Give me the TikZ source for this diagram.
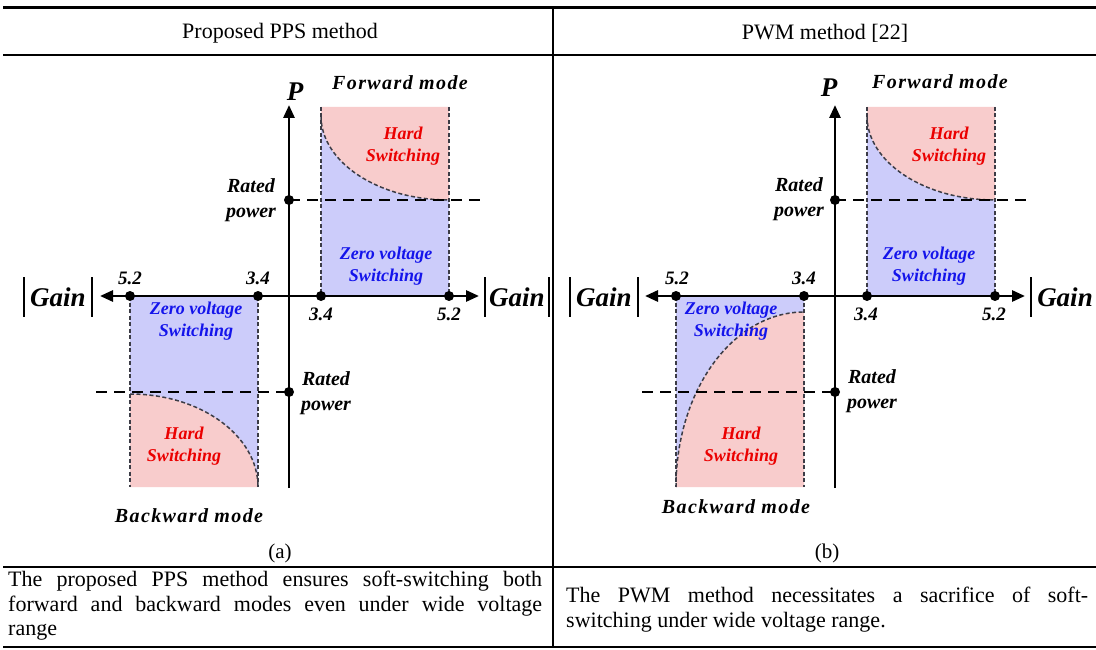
\documentclass[tikz,border=0pt]{standalone}
\usepackage{fontspec}
\setmainfont{Liberation Serif}
\usetikzlibrary{arrows.meta}
\definecolor{hardfill}{RGB}{248,204,204}
\definecolor{zvsfill}{RGB}{204,204,250}
\definecolor{hardtxt}{RGB}{235,0,0}
\definecolor{zvstxt}{RGB}{20,20,235}
\definecolor{edgegray}{RGB}{60,60,70}
\begin{document}
\begin{tikzpicture}[x=1pt,y=-1pt,
 tip/.tip={Triangle[length=13pt,width=11pt]},
 axisline/.style={line width=2.8pt,-tip},
 axisboth/.style={line width=2.8pt,tip-tip},
 dotn/.style={circle,fill=black,minimum size=10pt,inner sep=0pt},
 ratedline/.style={line width=2.8pt,dash pattern=on 11pt off 7pt},
 regionedge/.style={line width=1.2pt,edgegray,dash pattern=on 4pt off 2.5pt},
 curveline/.style={line width=1.5pt,edgegray,dash pattern=on 4pt off 2.5pt},
 gainbar/.style={line width=2pt},
 ratedlbl/.style={font=\fontsize{20}{25}\selectfont\bfseries\itshape,inner sep=0pt,align=center},
 numlbl/.style={font=\fontsize{19}{22}\selectfont\bfseries\itshape,inner sep=0pt},
 gainlbl/.style={font=\fontsize{27}{30}\selectfont\bfseries\itshape,inner sep=0pt},
 plbl/.style={font=\fontsize{27}{30}\selectfont\bfseries\itshape,inner sep=0pt},
 modelbl/.style={font=\fontsize{20}{24}\selectfont\bfseries\itshape\addfontfeature{LetterSpace=7},inner sep=0pt},
 hardlbl/.style={font=\fontsize{18}{22}\selectfont\bfseries\itshape,text=hardtxt,align=center,inner sep=0pt},
 zvslbl/.style={font=\fontsize{18}{22}\selectfont\bfseries\itshape,text=zvstxt,align=center,inner sep=0pt},
 cellhead/.style={font=\fontsize{22}{24}\selectfont,inner sep=0pt},
 celltext/.style={font=\fontsize{22}{24.5}\selectfont,inner sep=0pt,anchor=north west,align=justify},
 sublbl/.style={font=\fontsize{21}{24}\selectfont,inner sep=0pt}
]
\useasboundingbox (0,0) rectangle (1096,650);
\fill[white] (0,0) rectangle (1096,650);

% ---------------- table rules ----------------
\coordinate (tl) at (3,8);   \coordinate (tr) at (1096,8);
\coordinate (hl) at (3,55);  \coordinate (hr) at (1096,55);
\coordinate (sl) at (3,567); \coordinate (sr) at (1096,567);
\coordinate (bl) at (3,647); \coordinate (br) at (1096,647);
\coordinate (vt) at (553,8); \coordinate (vb) at (553,648);
\draw[line width=3pt] (tl) -- (tr);
\draw[line width=2.5pt] (hl) -- (hr);
\draw[line width=2pt] (sl) -- (sr);
\draw[line width=2pt] (bl) -- (br);
\draw[line width=1.5pt] (vt) -- (vb);

\node[cellhead] (h1) at (280,33) {Proposed PPS method};
\node[cellhead] (h2) at (825,33) {PWM method [22]};

\node[celltext,text width=534pt] (t1) at (8,571)
 {The proposed PPS method ensures soft-switching both\linebreak forward and backward modes even under wide voltage\linebreak range};
\node[celltext,text width=522pt] (t2) at (566,587)
 {The PWM method necessitates a sacrifice of soft-\linebreak switching under wide voltage range.};

% ================= LEFT DIAGRAM =================
\fill[zvsfill] (321,107) rectangle (449,296);
\fill[hardfill] (321,107) -- (321,116) .. controls (321,162) and (378,200) .. (449,200) -- (449,107) -- cycle;
\draw[curveline] (321,116) .. controls (321,162) and (378,200) .. (449,200);
\draw[regionedge] (321,107) -- (321,296);
\draw[regionedge] (449,107) -- (449,296);

\fill[zvsfill] (130,296) rectangle (258,487);
\fill[hardfill] (130,487) -- (130,394) .. controls (200.7,394) and (258,435.6) .. (258,487) -- cycle;
\draw[curveline] (130,394) .. controls (200.7,394) and (258,435.6) .. (258,487);
\draw[regionedge] (130,296) -- (130,487);
\draw[regionedge] (258,296) -- (258,487);

\node[dotn] (aru) at (289,200) {};
\node[dotn] (ard) at (289,392) {};
\node[dotn] (a52l) at (130,296) {};
\node[dotn] (a34l) at (258,296) {};
\node[dotn] (a34r) at (321,296) {};
\node[dotn] (a52r) at (449,296) {};
\coordinate (aybot) at (289,488);
\coordinate (aytop) at (289,105);
\coordinate (axl) at (100,296);
\coordinate (axr) at (479,296);
\coordinate (aru2) at (482,200);
\coordinate (ard2) at (96,392);
\draw[ratedline] (aru.center) -- (aru2);
\draw[ratedline] (ard2) -- (ard.center);
\draw[axisline] (aybot) -- (aytop);
\draw[axisboth] (axl) -- (axr);

\draw[gainbar] (24,277) -- (24,317);
\draw[gainbar] (92,277) -- (92,317);
\draw[gainbar] (485,277) -- (485,317);
\draw[gainbar] (549,277) -- (549,317);

\node[plbl] (aP) at (295,92) {P};
\node[modelbl] (afw) at (400,83) {Forward mode};
\node[hardlbl] (ahard1) at (403,146) {Hard\\Switching};
\node[zvslbl] (azvs1) at (386,266) {Zero voltage\\Switching};
\node[ratedlbl] (arat1) at (251,200) {Rated\\power};
\node[numlbl] (an1) at (130,278) {5.2};
\node[numlbl] (an2) at (258,278) {3.4};
\node[numlbl] (an3) at (321,314) {3.4};
\node[numlbl] (an4) at (449,314) {5.2};
\node[gainlbl] (ag1) at (58,297) {Gain};
\node[gainlbl] (ag2) at (517,297) {Gain};
\node[zvslbl] (azvs2) at (196,321) {Zero voltage\\Switching};
\node[hardlbl] (ahard2) at (184,446) {Hard\\Switching};
\node[ratedlbl] (arat2) at (326,393) {Rated\\power};
\node[modelbl] (abw) at (189,516) {Backward mode};
\node[sublbl] (asub) at (280,553) {(a)};

% ================= RIGHT DIAGRAM =================
\fill[zvsfill] (867,107) rectangle (995,296);
\fill[hardfill] (867,107) -- (867,116) .. controls (867,162) and (924,200) .. (995,200) -- (995,107) -- cycle;
\draw[curveline] (867,116) .. controls (867,162) and (924,200) .. (995,200);
\draw[regionedge] (867,107) -- (867,296);
\draw[regionedge] (995,107) -- (995,296);

\fill[zvsfill] (676,296) rectangle (804,487);
\fill[hardfill] (676,487) .. controls (676,390.3) and (733.3,312) .. (804,312) -- (804,487) -- cycle;
\draw[curveline] (676,487) .. controls (676,390.3) and (733.3,312) .. (804,312);
\draw[regionedge] (676,296) -- (676,487);
\draw[regionedge] (804,296) -- (804,487);

\node[dotn] (bru) at (835,200) {};
\node[dotn] (brd) at (835,392) {};
\node[dotn] (b52l) at (676,296) {};
\node[dotn] (b34l) at (804,296) {};
\node[dotn] (b34r) at (867,296) {};
\node[dotn] (b52r) at (995,296) {};
\coordinate (bybot) at (835,488);
\coordinate (bytop) at (835,105);
\coordinate (bxl) at (645,296);
\coordinate (bxr) at (1025,296);
\coordinate (bru2) at (1028,200);
\coordinate (brd2) at (642,392);
\draw[ratedline] (bru.center) -- (bru2);
\draw[ratedline] (brd2) -- (brd.center);
\draw[axisline] (bybot) -- (bytop);
\draw[axisboth] (bxl) -- (bxr);

\draw[gainbar] (570,277) -- (570,317);
\draw[gainbar] (638,277) -- (638,317);
\draw[gainbar] (1031,277) -- (1031,317);

\node[plbl] (bP) at (829,88) {P};
\node[modelbl] (bfw) at (940,82) {Forward mode};
\node[hardlbl] (bhard1) at (949,146) {Hard\\Switching};
\node[zvslbl] (bzvs1) at (929,266) {Zero voltage\\Switching};
\node[ratedlbl] (brat1) at (799,199) {Rated\\power};
\node[numlbl] (bn1) at (677,278) {5.2};
\node[numlbl] (bn2) at (804,278) {3.4};
\node[numlbl] (bn3) at (866,314) {3.4};
\node[numlbl] (bn4) at (994,314) {5.2};
\node[gainlbl] (bg1) at (604,297) {Gain};
\node[gainlbl] (bg2) at (1065,297) {Gain};
\node[zvslbl] (bzvs2) at (731,321) {Zero voltage\\Switching};
\node[hardlbl] (bhard2) at (741,446) {Hard\\Switching};
\node[ratedlbl] (brat2) at (872,391) {Rated\\power};
\node[modelbl] (bbw) at (736,507) {Backward mode};
\node[sublbl] (bsub) at (827,553) {(b)};
\end{tikzpicture}
\end{document}
